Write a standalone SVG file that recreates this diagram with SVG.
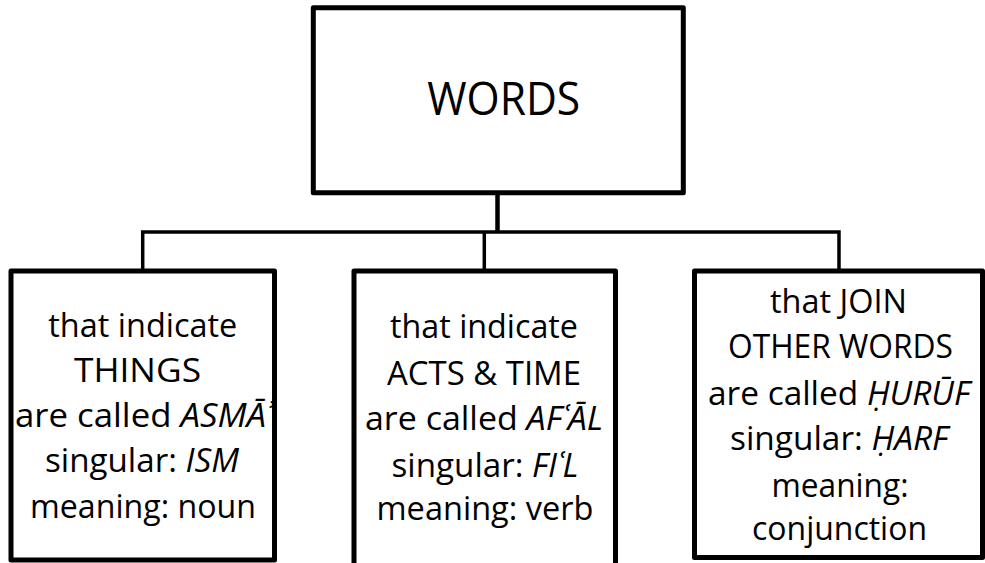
<svg xmlns="http://www.w3.org/2000/svg" width="985" height="563" viewBox="0 0 985 563">
<style>
.box{fill:#fff;stroke:#000;stroke-width:5;stroke-linejoin:round}
.conn{fill:none;stroke:#000;stroke-width:3.5}
.t{font-family:"Open Sans","Noto Sans","Liberation Sans",sans-serif;font-size:32px;fill:#000;text-anchor:middle}
.big{font-size:46px}
.i{font-style:italic}
.m{font-family:"Noto Sans","DejaVu Sans",sans-serif}
</style>
<rect width="985" height="563" fill="#fff"/>
<g id="connectors">
<line class="conn" x1="497.5" y1="193" x2="497.5" y2="232" style="stroke-width:4.5"/>
<polyline class="conn" points="142.7,271 142.7,232 839,232 839,271"/>
<line class="conn" x1="484.3" y1="232" x2="484.3" y2="271"/>
</g>
<g id="words">
<rect class="box" x="313.3" y="7.7" width="370" height="185"/>
<text class="t big" x="503.7" y="115" textLength="153" lengthAdjust="spacingAndGlyphs">WORDS</text>
</g>
<g id="asma">
<rect class="box" x="11" y="271" width="263.5" height="289"/>
<text class="t" x="142.8" y="337" textLength="189" lengthAdjust="spacingAndGlyphs">that indicate</text>
<text class="t" x="137.5" y="382" textLength="127" lengthAdjust="spacingAndGlyphs">THINGS</text>
<text class="t" x="143.5" y="426.5" textLength="257" lengthAdjust="spacingAndGlyphs">are called <tspan class="i">ASMĀ</tspan><tspan class="i m">ʾ</tspan></text>
<text class="t" x="142" y="471.5" textLength="194" lengthAdjust="spacingAndGlyphs">singular: <tspan class="i">ISM</tspan></text>
<text class="t" x="143" y="518" textLength="226" lengthAdjust="spacingAndGlyphs">meaning: noun</text>
</g>
<g id="afal">
<rect class="box" x="354" y="271" width="261.5" height="310"/>
<text class="t" x="484" y="338" textLength="188" lengthAdjust="spacingAndGlyphs">that indicate</text>
<text class="t" x="484" y="385" textLength="194" lengthAdjust="spacingAndGlyphs">ACTS &amp; TIME</text>
<text class="t" x="484" y="430" textLength="238" lengthAdjust="spacingAndGlyphs">are called <tspan class="i">AFʿĀL</tspan></text>
<text class="t" x="485" y="476.5" textLength="187" lengthAdjust="spacingAndGlyphs">singular: <tspan class="i">FIʿL</tspan></text>
<text class="t" x="485" y="520" textLength="217" lengthAdjust="spacingAndGlyphs">meaning: verb</text>
</g>
<g id="huruf">
<rect class="box" x="694.5" y="271" width="288" height="286.5"/>
<text class="t" x="838.5" y="313" textLength="137" lengthAdjust="spacingAndGlyphs">that JOIN</text>
<text class="t" x="840.5" y="358" textLength="225" lengthAdjust="spacingAndGlyphs">OTHER WORDS</text>
<text class="t" x="839" y="405" textLength="262" lengthAdjust="spacingAndGlyphs">are called <tspan class="i">ḤURŪF</tspan></text>
<text class="t" x="839" y="450" textLength="218" lengthAdjust="spacingAndGlyphs">singular: <tspan class="i">ḤARF</tspan></text>
<text class="t" x="840" y="496.5" textLength="137" lengthAdjust="spacingAndGlyphs">meaning:</text>
<text class="t" x="839.5" y="540" textLength="175" lengthAdjust="spacingAndGlyphs">conjunction</text>
</g>
</svg>
